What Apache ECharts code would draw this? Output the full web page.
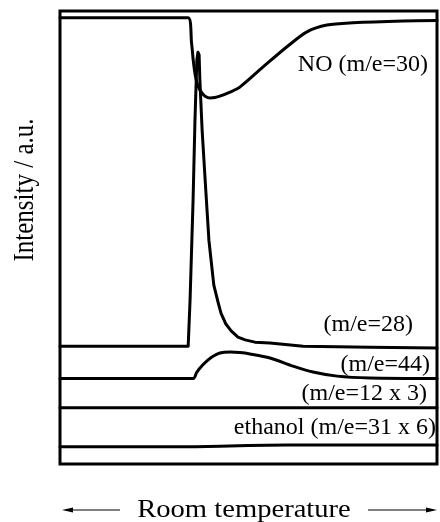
<!DOCTYPE html>
<html>
<head>
<meta charset="utf-8">
<script src="https://cdn.jsdelivr.net/npm/echarts@6/dist/echarts.min.js"></script>
<style>
  html, body { margin: 0; padding: 0; background: #fff; }
  #chart { width: 440px; height: 522px; }
</style>
</head>
<body>
<div id="chart"></div>
<script>
// Mass-spectrometer traces during the room-temperature run (time in arbitrary units, intensity in a.u.)
const no30 = [
  [0, 98.5], [34.0, 98.5], [34.9, 92.9], [35.4, 88.7], [35.9, 85.7], [36.6, 83.4],
  [37.5, 82.1], [38.5, 81.2], [39.8, 80.8], [41.1, 80.9], [42.4, 81.2], [45.1, 82.1],
  [47.7, 83.2], [53.8, 87.6], [60.2, 92.1], [65.5, 95.4], [70.8, 96.9], [77.7, 97.4],
  [91.0, 97.8], [100, 97.9]
];
const me28 = [
  [0, 26.0], [34.0, 26.0], [34.5, 36.2], [35.3, 58.3], [35.8, 75.9], [36.3, 89.2],
  [36.6, 90.9], [36.9, 90.3], [37.1, 84.8], [37.7, 73.7], [38.5, 62.7], [39.5, 49.4],
  [40.8, 39.5], [41.9, 35.8], [42.7, 33.3], [44.0, 30.9], [45.4, 29.4], [47.2, 28.0],
  [49.1, 27.4], [51.7, 26.9], [55.7, 26.7], [64.5, 26.0], [82.2, 25.8], [100, 25.6]
];
const me44 = [
  [0, 18.9], [35.3, 18.9], [36.3, 20.3], [37.9, 21.9], [39.3, 23.0], [40.6, 23.8],
  [42.4, 24.5], [45.1, 24.7], [47.7, 24.6], [50.4, 24.3], [55.7, 23.4], [61.8, 21.6],
  [67.1, 20.3], [73.5, 19.4], [82.2, 19.0], [100, 18.9]
];
const me12x3 = [[0, 12.4], [100, 12.4]];
const ethanol31x6 = [
  [0, 3.8], [36.0, 3.8], [42.4, 3.9], [50.0, 4.1], [60.0, 4.2], [100, 4.2]
];

const traceNames = ['NO (m/e=30)', '(m/e=28)', '(m/e=44)', '(m/e=12 x 3)', 'ethanol (m/e=31 x 6)'];
const traces = [no30, me28, me44, me12x3, ethanol31x6];
const traceSmooth = [0.3, false, 0.3, false, false];

const yTitle = 'Intensity / a.u.';
const xTitle = 'Room temperature';

const serif = '"Liberation Serif", "Times New Roman", serif';

// label anchors: right edge x, vertical middle y
const labelPos = [[428, 65], [413, 325], [430, 365], [427, 394], [436, 428]];

const chart = echarts.init(document.getElementById('chart'), null, { renderer: 'canvas' });

const labelGraphics = traceNames.map((t, i) => ({
  type: 'text',
  x: labelPos[i][0],
  y: labelPos[i][1],
  style: {
    text: t, font: '24px ' + serif, fill: '#000',
    align: 'right', textAlign: 'right',
    verticalAlign: 'middle', textVerticalAlign: 'middle'
  }
}));

const arrowStyle = { stroke: '#000', lineWidth: 1.2 };

chart.setOption({
  animation: false,
  backgroundColor: '#fff',
  grid: {
    left: 60, right: 3, top: 11, bottom: 58,
    show: true, borderColor: '#000', borderWidth: 3, backgroundColor: 'transparent'
  },
  xAxis: {
    type: 'value', min: 0, max: 100,
    axisLine: { show: false }, axisTick: { show: false },
    axisLabel: { show: false }, splitLine: { show: false }
  },
  yAxis: {
    type: 'value', min: 0, max: 100,
    axisLine: { show: false }, axisTick: { show: false },
    axisLabel: { show: false }, splitLine: { show: false }
  },
  series: traces.map((d, i) => ({
    type: 'line',
    name: traceNames[i],
    data: d,
    showSymbol: false,
    symbol: 'none',
    smooth: traceSmooth[i],
    lineStyle: { color: '#000', width: 3, join: 'round', cap: 'round' }
  })),
  graphic: [
    ...labelGraphics,
    {
      type: 'text',
      x: 25, y: 190,
      rotation: Math.PI / 2,
      scaleY: 1.15,
      style: {
        text: yTitle, font: '25px ' + serif, fill: '#000',
        align: 'center', textAlign: 'center',
        verticalAlign: 'middle', textVerticalAlign: 'middle'
      }
    },
    {
      type: 'text',
      x: 244, y: 510,
      scaleX: 1.1,
      style: {
        text: xTitle, font: '26px ' + serif, fill: '#000',
        align: 'center', textAlign: 'center',
        verticalAlign: 'middle', textVerticalAlign: 'middle'
      }
    },
    { type: 'line', shape: { x1: 70, y1: 510, x2: 120, y2: 510 }, style: arrowStyle },
    { type: 'polygon', shape: { points: [[62, 510], [73, 507.5], [73, 512.5]] }, style: { fill: '#000' } },
    { type: 'line', shape: { x1: 368, y1: 510, x2: 428, y2: 510 }, style: arrowStyle },
    { type: 'polygon', shape: { points: [[437, 510], [426, 507.5], [426, 512.5]] }, style: { fill: '#000' } }
  ]
});
</script>
</body>
</html>
